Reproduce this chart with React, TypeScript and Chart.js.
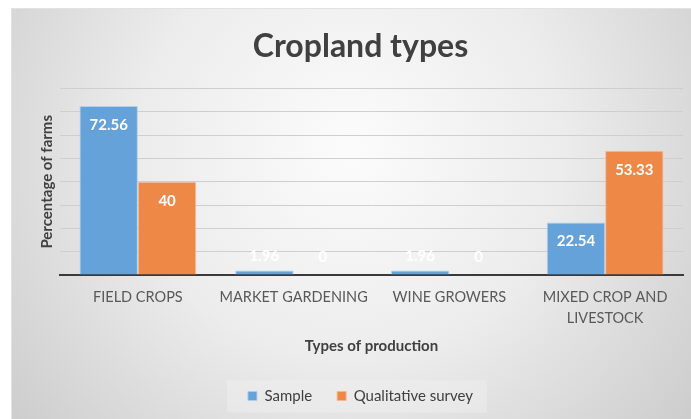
import React, { useEffect, useRef } from "react";
import { Chart, registerables } from "chart.js";

Chart.register(...registerables);

const categories: (string | string[])[] = [
  "FIELD CROPS",
  "MARKET GARDENING",
  "WINE GROWERS",
  ["MIXED CROP AND", "LIVESTOCK"],
];
const sampleValues = [72.56, 1.96, 1.96, 22.54];
const surveyValues = [40, 0, 0, 53.33];
const seriesNames = ["Sample", "Qualitative survey"];
const chartTitle = "Cropland types";
const yTitle = "Percentage of farms";
const xTitle = "Types of production";

const FONT = "Lato, 'Open Sans', sans-serif";

const backgroundPlugin = {
  id: "bgPlugin",
  beforeDraw(chart: any) {
    const { ctx, width, height } = chart;
    ctx.save();
    ctx.fillStyle = "#ffffff";
    ctx.fillRect(0, 0, width, height);
    const g = ctx.createRadialGradient(350, 150, 10, 350, 150, 460);
    g.addColorStop(0, "#fbfbfb");
    g.addColorStop(0.45, "#ececec");
    g.addColorStop(1, "#c9c9c9");
    ctx.fillStyle = g;
    ctx.fillRect(11, 8, width - 11, height - 8);
    ctx.strokeStyle = "#e2e2e2";
    ctx.lineWidth = 1;
    ctx.beginPath();
    ctx.moveTo(11.5, height);
    ctx.lineTo(11.5, 8.5);
    ctx.lineTo(width, 8.5);
    ctx.stroke();
    // legend background box
    const lg = chart.legend;
    if (lg && lg.legendHitBoxes && lg.legendHitBoxes.length) {
      const boxes = lg.legendHitBoxes;
      const minX = Math.min(...boxes.map((b: any) => b.left));
      const maxX = Math.max(...boxes.map((b: any) => b.left + b.width));
      const cy = boxes[0].top + boxes[0].height / 2;
      ctx.fillStyle = "rgba(240,240,240,0.45)";
      ctx.fillRect(minX - 21, cy - 15.5, maxX - minX + 35, 32);
    }
    ctx.restore();
  },
};

const labelPlugin = {
  id: "valueLabels",
  afterDatasetsDraw(chart: any) {
    const { ctx } = chart;
    ctx.save();
    ctx.font = `bold 15px ${FONT}`;
    ctx.fillStyle = "#ffffff";
    ctx.textAlign = "center";
    ctx.textBaseline = "middle";
    chart.data.datasets.forEach((ds: any, di: number) => {
      const meta = chart.getDatasetMeta(di);
      meta.data.forEach((el: any, i: number) => {
        const v = ds.data[i];
        const y = Math.min(el.y + 19, el.base - 18);
        ctx.fillText(String(v), el.x, y);
      });
    });
    ctx.restore();
  },
};

export default function App() {
  const ref = useRef<HTMLCanvasElement | null>(null);
  useEffect(() => {
    if (!ref.current) return;
    const chart = new Chart(ref.current, {
      type: "bar",
      data: {
        labels: categories as any,
        datasets: [
          {
            label: seriesNames[0],
            data: sampleValues,
            backgroundColor: "#65a2d9",
            borderColor: "rgba(170,205,236,0.9)",
            borderWidth: 1,
            categoryPercentage: 0.75,
            barPercentage: 1,
          },
          {
            label: seriesNames[1],
            data: surveyValues,
            backgroundColor: "#ed8846",
            borderColor: "rgba(245,185,145,0.9)",
            borderWidth: 1,
            categoryPercentage: 0.75,
            barPercentage: 1,
          },
        ],
      },
      options: {
        responsive: false,
        animation: false,
        devicePixelRatio: 1,
        layout: { padding: { left: 38, right: 8, top: 0, bottom: 5.5 } },
        plugins: {
          title: {
            display: true,
            text: chartTitle,
            color: "#404040",
            font: { family: FONT, size: 32, weight: "bold", lineHeight: 1.2 },
            padding: { top: 27.3, bottom: 22.9 },
          },
          legend: {
            display: true,
            position: "bottom",
            labels: {
              boxWidth: 9,
              boxHeight: 9,
              padding: 25,
              color: "#404040",
              font: { family: FONT, size: 15 },
            },
          },
          tooltip: { enabled: false },
        },
        scales: {
          x: {
            grid: { display: false, drawTicks: false },
            border: { display: true, color: "#3a3a3a", width: 2 },
            ticks: {
              color: "#595959",
              padding: 12,
              font: { family: FONT, size: 14.5, lineHeight: 1.45 },
              maxRotation: 0,
              autoSkip: false,
            },
            title: {
              display: true,
              text: xTitle,
              color: "#404040",
              font: { family: FONT, size: 15, weight: "bold", lineHeight: 1.2 },
              padding: { top: 0, bottom: 8.5 },
            },
            afterFit(scale: any) {
              scale.height = 88.5;
            },
          },
          y: {
            min: 0,
            max: 80,
            ticks: { display: false, stepSize: 10 },
            grid: { color: "#cfcfcf", lineWidth: 1, drawTicks: false },
            border: { display: false },
            title: {
              display: true,
              text: yTitle,
              color: "#404040",
              font: { family: FONT, size: 15, weight: "bold", lineHeight: 1.2 },
              padding: { top: 0, bottom: 0 },
            },
            afterFit(scale: any) {
              scale.width = 22;
            },
          },
        },
      },
      plugins: [backgroundPlugin, labelPlugin],
    } as any);
    return () => chart.destroy();
  }, []);
  return (
    <canvas
      ref={ref}
      width={691}
      height={419}
      style={{ position: "fixed", left: 0, top: 0, width: 691, height: 419 }}
    />
  );
}
